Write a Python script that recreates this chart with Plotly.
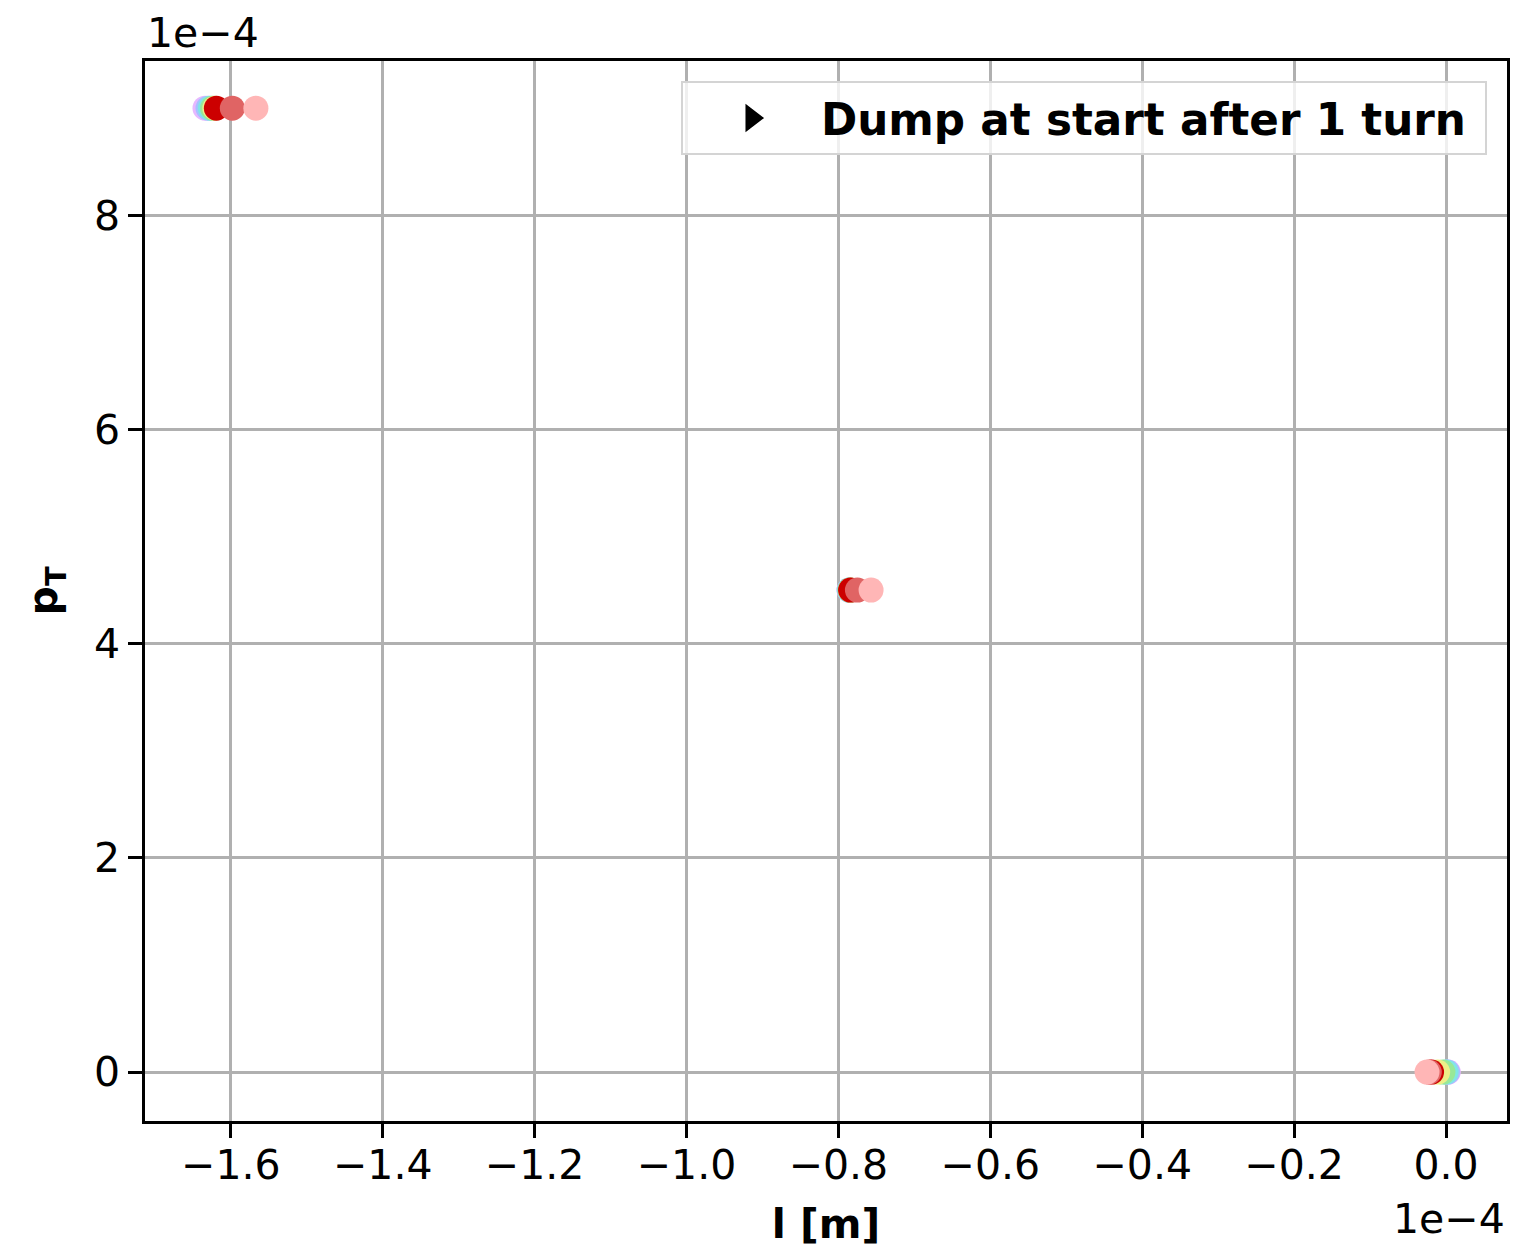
import plotly.graph_objects as go

# Particle coordinates (l in metres, p_T) at three tracking checkpoints
SCALE = 1e-4
series_names = ["p0", "p1", "p2", "p3", "p4", "p5", "p6", "p7"]
series_colors = ["#e6b8ff", "#a8c0ff", "#80e6e6", "#98e898", "#eeee88",
                 "#cc0000", "#e06464", "#ffb6b6"]
l_top = [-1.634e-4, -1.630e-4, -1.627e-4, -1.624e-4, -1.621e-4, -1.619e-4, -1.598e-4, -1.567e-4]
l_mid = [-0.786e-4, -0.786e-4, -0.785e-4, -0.785e-4, -0.784e-4, -0.784e-4, -0.775e-4, -0.757e-4]
l_bot = [0.003e-4, 0.002e-4, 0.000e-4, -0.004e-4, -0.011e-4, -0.019e-4, -0.022e-4, -0.025e-4]
pt_levels = [9.0e-4, 4.5e-4, 0.0]

x_ticks = [-1.6, -1.4, -1.2, -1.0, -0.8, -0.6, -0.4, -0.2, 0.0]
y_ticks = [0, 2, 4, 6, 8]

FONT = "DejaVu Sans"
fig = go.Figure()

for i, name in enumerate(series_names):
    xs = [l_top[i], l_mid[i], l_bot[i]]
    fig.add_trace(go.Scatter(
        x=[v / SCALE for v in xs],
        y=[v / SCALE for v in pt_levels],
        mode="markers",
        name=name,
        showlegend=False,
        marker=dict(size=25, color=series_colors[i], line=dict(width=0)),
    ))

# Legend entry for the dump marker
fig.add_trace(go.Scatter(
    x=[None], y=[None], mode="markers",
    name="<b>Dump at start after 1 turn</b>&nbsp;",
    marker=dict(symbol="triangle-right", size=22, color="black",
                line=dict(width=5, color="black")),
))

axis_common = dict(
    showgrid=True, gridcolor="#b0b0b0", gridwidth=2.5,
    showline=True, linecolor="black", linewidth=2.5, mirror=True,
    ticks="outside", ticklen=14, tickwidth=2.5, tickcolor="black",
    tickfont=dict(family=FONT, size=41, color="black"),
    zeroline=False,
)

fig.update_layout(
    width=1538, height=1253,
    margin=dict(l=145, r=31, t=61, b=132),
    paper_bgcolor="white", plot_bgcolor="white",
    font=dict(family=FONT, color="black"),
    xaxis=dict(
        range=[-1.713, 0.0803], tickvals=x_ticks, tickformat=".1f",
        ticklabelstandoff=-8,
        title=dict(text="<b>l [m]</b>", font=dict(family=FONT, size=41), standoff=22),
        **axis_common,
    ),
    yaxis=dict(
        range=[-0.457, 9.44], tickvals=y_ticks, tickformat="d",
        title=dict(text="<b>p<sub>T</sub></b>", font=dict(family=FONT, size=41), standoff=24),
        **axis_common,
    ),
    legend=dict(
        x=0.9853, y=0.981, xanchor="right", yanchor="top",
        bgcolor="rgba(255,255,255,0.8)", bordercolor="#d4d4d4", borderwidth=2,
        font=dict(family=FONT, size=43.7, color="black"),
        itemwidth=128,
    ),
    annotations=[
        dict(text="1e\u22124", xref="paper", yref="paper", x=0.0, y=1.0,
             xanchor="left", yanchor="bottom", showarrow=False, xshift=0, yshift=2,
             font=dict(family=FONT, size=41, color="black")),
        dict(text="1e\u22124", xref="paper", yref="paper", x=1.0, y=0.0,
             xanchor="right", yanchor="top", showarrow=False, yshift=-72,
             font=dict(family=FONT, size=41, color="black")),
    ],
)

fig.write_html("out.html")
